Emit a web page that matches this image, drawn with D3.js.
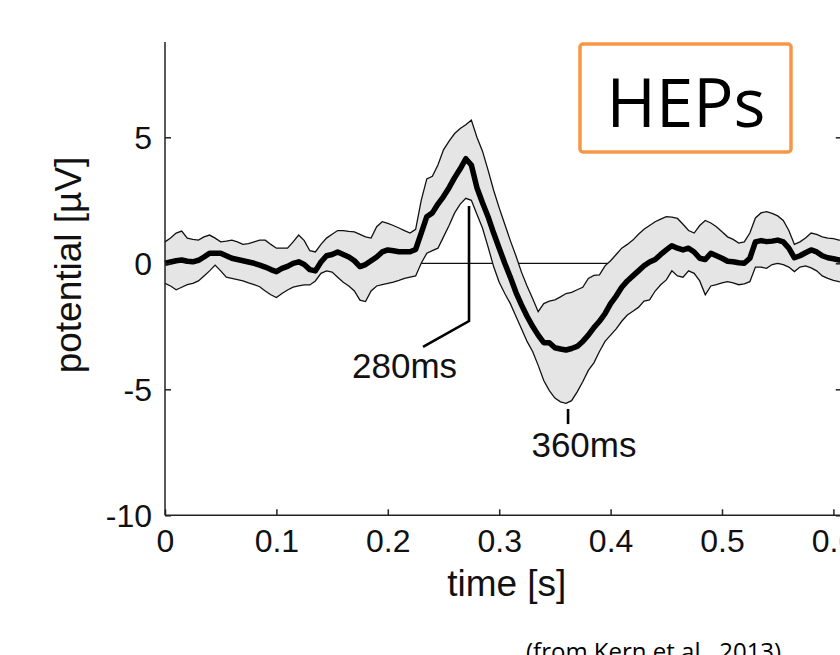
<!DOCTYPE html>
<html lang="en">
<head>
<meta charset="utf-8">
<title>HEPs</title>
<script src="https://cdn.jsdelivr.net/npm/d3@7"></script>
<style>
  body { margin: 0; background: #fff; }
  svg { display: block; }
  .axis path, .axis line { stroke: #222; stroke-width: 1.5px; }
  .axis text { font-family: "Liberation Sans", Arial, sans-serif; font-size: 32px; fill: #111; }
  .lbl { font-family: "Liberation Sans", Arial, sans-serif; fill: #111; }
</style>
</head>
<body>
<script>
// sample times (s)
var time = [0.000,0.005,0.010,0.015,0.020,0.025,0.030,0.035,0.040,0.045,
  0.050,0.055,0.060,0.065,0.070,0.075,0.080,0.085,0.090,0.095,
  0.100,0.105,0.110,0.115,0.120,0.125,0.130,0.135,0.140,0.145,
  0.150,0.155,0.160,0.165,0.170,0.175,0.180,0.185,0.190,0.195,
  0.200,0.205,0.210,0.215,0.220,0.225,0.230,0.235,0.240,0.245,
  0.250,0.255,0.260,0.265,0.270,0.275,0.280,0.285,0.290,0.295,
  0.300,0.305,0.310,0.315,0.320,0.325,0.330,0.335,0.340,0.345,
  0.350,0.355,0.360,0.365,0.370,0.375,0.380,0.385,0.390,0.395,
  0.400,0.405,0.410,0.415,0.420,0.425,0.430,0.435,0.440,0.445,
  0.450,0.455,0.460,0.465,0.470,0.475,0.480,0.485,0.490,0.495,
  0.500,0.505,0.510,0.515,0.520,0.525,0.530,0.535,0.540,0.545,
  0.550,0.555,0.560,0.565,0.570,0.575,0.580,0.585,0.590,0.595,
  0.600,0.605,0.610];

// grand average HEP (µV)
var meanHEP = [0.00,0.05,0.10,0.13,0.08,0.06,0.12,0.25,0.40,0.40,
  0.40,0.30,0.20,0.15,0.10,0.05,0.00,-0.07,-0.15,-0.25,
  -0.33,-0.20,-0.12,0.00,0.06,-0.05,-0.25,-0.30,0.05,0.30,
  0.35,0.45,0.35,0.25,0.10,-0.13,-0.05,0.10,0.25,0.45,
  0.53,0.50,0.46,0.46,0.46,0.55,1.20,1.85,2.00,2.35,
  2.65,3.00,3.40,3.75,4.15,3.90,3.00,2.40,1.85,1.20,
  0.60,0.00,-0.55,-1.15,-1.65,-2.10,-2.50,-2.85,-3.15,-3.15,
  -3.35,-3.40,-3.44,-3.38,-3.30,-3.10,-2.85,-2.55,-2.30,-2.00,
  -1.60,-1.30,-0.95,-0.70,-0.50,-0.30,-0.10,0.05,0.15,0.35,
  0.53,0.70,0.60,0.53,0.60,0.45,0.20,0.15,0.40,0.30,
  0.20,0.08,0.06,0.02,0.00,0.20,0.85,0.90,0.86,0.88,
  0.92,0.85,0.60,0.22,0.30,0.42,0.53,0.45,0.30,0.22,
  0.18,0.13,0.12];

// upper edge of the shaded band
var upperHEP = [0.85,1.00,1.20,1.28,1.00,0.95,0.92,1.05,1.12,1.00,
  0.85,0.88,0.92,0.85,0.75,0.78,0.85,0.92,0.92,0.75,
  0.60,0.60,0.60,0.85,1.12,0.90,0.50,0.45,0.75,1.00,
  1.15,1.30,1.30,1.27,1.25,1.15,1.05,1.00,1.45,1.65,
  1.58,1.50,1.40,1.30,1.20,1.35,2.50,3.35,3.45,3.90,
  4.50,4.85,5.15,5.35,5.50,5.68,5.00,4.45,3.70,2.90,
  2.20,1.55,0.90,0.30,-0.35,-0.90,-1.40,-1.92,-1.60,-1.50,
  -1.45,-1.33,-1.20,-1.15,-1.05,-0.95,-0.60,-0.48,-0.46,-0.10,
  0.10,0.35,0.60,0.75,0.92,1.15,1.35,1.50,1.65,1.75,
  1.85,1.83,1.78,1.55,1.30,1.20,1.50,1.70,1.60,1.45,
  1.25,1.05,0.95,0.80,0.85,1.20,1.80,2.00,2.05,1.98,
  1.88,1.70,1.30,0.75,0.85,1.00,1.20,1.15,1.05,1.00,
  0.98,0.92,0.90];

// lower edge of the shaded band
var lowerHEP = [-0.80,-0.90,-1.05,-0.95,-0.85,-0.80,-0.70,-0.50,-0.30,-0.07,
  -0.30,-0.55,-0.60,-0.65,-0.70,-0.78,-0.85,-0.93,-1.10,-1.25,
  -1.36,-1.20,-1.06,-0.95,-0.90,-0.86,-0.86,-0.70,-0.40,-0.30,
  -0.35,-0.55,-0.75,-0.90,-1.10,-1.46,-1.52,-1.10,-0.90,-0.85,
  -0.80,-0.75,-0.68,-0.60,-0.55,-0.50,0.00,0.40,0.50,0.60,
  1.05,1.50,2.00,2.35,2.58,2.50,1.95,1.40,0.65,-0.13,
  -0.75,-1.20,-1.60,-2.10,-2.60,-3.10,-3.50,-4.05,-4.65,-5.05,
  -5.35,-5.50,-5.56,-5.45,-5.10,-4.70,-4.25,-3.95,-3.50,-3.10,
  -2.85,-2.60,-2.30,-2.05,-1.90,-1.75,-1.50,-1.45,-1.10,-0.85,
  -0.66,-0.30,-0.50,-0.55,-0.30,-0.40,-0.70,-1.25,-0.90,-0.85,
  -0.78,-0.73,-0.78,-0.85,-0.82,-0.73,-0.15,-0.15,-0.20,-0.05,
  0.00,-0.05,-0.15,-0.33,-0.15,-0.10,-0.18,-0.30,-0.50,-0.60,
  -0.68,-0.73,-0.75];

var xTicks = [0, 0.1, 0.2, 0.3, 0.4, 0.5, 0.6];
var yTicks = [-10, -5, 0, 5];

// peak annotations: [time of label tick, text]
var peakTimes = [0.2729, 0.3618];
var peakLabels = ["280ms", "360ms"];

var w = 840, h = 655;

var x = d3.scaleLinear().domain([0, 0.1]).range([165, 276.4]);
var y = d3.scaleLinear().domain([0, 5]).range([263.3, 137.3]);

var svg = d3.select("body").append("svg")
    .attr("width", w).attr("height", h);

var rows = time.map(function(t, i) {
    return {t: t, m: meanHEP[i], u: upperHEP[i], l: lowerHEP[i]};
});

// zero line (under the band)
svg.append("line")
    .attr("x1", x(0)).attr("x2", w)
    .attr("y1", y(0)).attr("y2", y(0))
    .style("stroke", "#111").style("stroke-width", 1.3);

// shaded band
var area = d3.area()
    .x(d => x(d.t))
    .y0(d => y(d.l))
    .y1(d => y(d.u));

svg.append("path").datum(rows)
    .attr("d", area)
    .style("fill", "#e5e5e5");

var edge = function(key) {
    return d3.line().x(d => x(d.t)).y(d => y(d[key]));
};

["u", "l"].forEach(function(k) {
    svg.append("path").datum(rows)
        .attr("d", edge(k))
        .style("fill", "none")
        .style("stroke", "#111")
        .style("stroke-width", 1.3);
});

svg.append("path").datum(rows)
    .attr("d", edge("m"))
    .style("fill", "none")
    .style("stroke", "#000")
    .style("stroke-width", 5.5)
    .style("stroke-linejoin", "round");

// axes
var xAxis = d3.axisBottom(x).tickValues(xTicks)
    .tickSizeInner(-6).tickSizeOuter(0).tickPadding(14)
    .tickFormat(d => String(d));
svg.append("g").attr("class", "axis")
    .attr("transform", "translate(0," + y(-10) + ")")
    .call(xAxis)
    .select(".domain").attr("d", "M" + x(0) + ",0H" + w);

// plain hyphen for negatives, like the original
var yAxis = d3.axisLeft(y).tickValues(yTicks)
    .tickSizeInner(-6).tickSizeOuter(0).tickPadding(13)
    .tickFormat(d => String(d));
var gy = svg.append("g").attr("class", "axis")
    .attr("transform", "translate(" + x(0) + ",0)")
    .call(yAxis);
gy.select(".domain").attr("d", "M0," + y(-10) + "V42");
gy.selectAll(".tick text").attr("dy", "0.36em");

// right frame ticks (frame sits just past the edge)
var yRight = d3.axisLeft(y).tickValues(yTicks)
    .tickSizeInner(6).tickSizeOuter(0).tickFormat("");
svg.append("g").attr("class", "axis")
    .attr("transform", "translate(" + x(0.6075) + ",0)")
    .call(yRight);

// axis labels
svg.append("text").attr("class", "lbl")
    .attr("x", (x(0) + x(0.61)) / 2 + 2).attr("y", 596)
    .attr("text-anchor", "middle")
    .style("font-size", "37px")
    .text("time [s]");

svg.append("text").attr("class", "lbl")
    .attr("transform", "translate(81,265) rotate(-90)")
    .attr("text-anchor", "middle")
    .style("font-size", "37px")
    .text("potential [µV]");

// 280 ms leader
var p1 = peakTimes[0];
svg.append("path")
    .attr("d", d3.line()([
        [x(p1), y(2.27)], [x(p1), y(-2.29)], [x(0.2316), y(-3.32)]
    ]))
    .style("fill", "none").style("stroke", "#000").style("stroke-width", 2.6);
svg.append("text").attr("class", "lbl")
    .attr("x", x(0.1679)).attr("y", 378)
    .style("font-size", "35px")
    .text(peakLabels[0]);

// 360 ms tick
var p2 = peakTimes[1];
svg.append("line")
    .attr("x1", x(p2)).attr("x2", x(p2))
    .attr("y1", y(-5.78)).attr("y2", y(-6.38))
    .style("stroke", "#000").style("stroke-width", 2.6);
svg.append("text").attr("class", "lbl")
    .attr("x", x(0.3761)).attr("y", 457)
    .attr("text-anchor", "middle")
    .style("font-size", "35px")
    .text(peakLabels[1]);

// title box
svg.append("rect")
    .attr("x", 580).attr("y", 44).attr("width", 211).attr("height", 108)
    .attr("rx", 3)
    .style("fill", "#fff").style("stroke", "#F79646").style("stroke-width", 3.5);
svg.append("text")
    .attr("x", 686).attr("y", 127)
    .attr("text-anchor", "middle")
    .style("font-family", "'Open Sans', 'Noto Sans', sans-serif")
    .style("font-size", "67px")
    .style("fill", "#000")
    .text("HEPs");

// source note (cut by the bottom edge, as in the original)
svg.append("text")
    .attr("x", 526).attr("y", 660)
    .style("font-family", "'Open Sans', 'Noto Sans', sans-serif")
    .style("font-size", "24px")
    .style("fill", "#000")
    .text("(from Kern et al., 2013)");
</script>
</body>
</html>
